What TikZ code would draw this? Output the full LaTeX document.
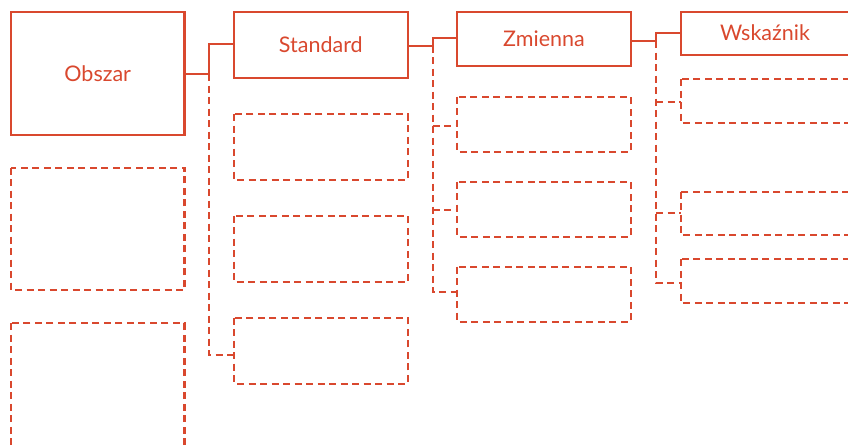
\documentclass[tikz,border=0pt]{standalone}
\usepackage{fontspec}
\setmainfont{Lato}
\definecolor{accent}{RGB}{217,72,46}
\begin{document}
\begin{tikzpicture}[x=1pt,y=-1pt,
  solidbox/.style={draw=accent,line width=2.3pt,text=accent,font=\fontsize{21.5}{26}\selectfont},
  dashbox/.style={draw=accent,line width=2.3pt,dash pattern=on 7pt off 4.5pt},
  solidline/.style={draw=accent,line width=2.3pt},
  dashline/.style={draw=accent,line width=2.3pt,dash pattern=on 7pt off 4.5pt}]
\useasboundingbox (0,0) rectangle (848,445);
\begin{scope}
\clip (0,0) rectangle (848,445);
% column 1
\draw[solidbox] (11,11.7) rectangle (184.5,135) node[midway] (obszar) {Obszar};
\coordinate (obszarR) at (184.5,74);
\draw[dashbox] (11,167.7) rectangle (184.5,290);
\draw[dashbox] (11,323.3) rectangle (184.5,470);
% column 2
\draw[solidbox] (234,12) rectangle (407.7,77.7) node[midway] (standard) {Standard};
\coordinate (standardL) at (234,44);
\coordinate (standardR) at (407.7,45.7);
\draw[dashbox] (234,114) rectangle (407.7,180);
\draw[dashbox] (234,215.7) rectangle (407.7,282);
\draw[dashbox] (234,317.7) rectangle (407.7,383.7);
\coordinate (s4L) at (234,355);
% column 3
\draw[solidbox] (457.3,11.7) rectangle (630.7,66) node[midway] (zmienna) {Zmienna};
\coordinate (zmiennaL) at (457.3,38.3);
\coordinate (zmiennaR) at (630.7,41);
\draw[dashbox] (457.3,96.7) rectangle (630.7,151.7);
\draw[dashbox] (457.3,181.7) rectangle (630.7,236.7);
\draw[dashbox] (457.3,266.7) rectangle (630.7,321.7);
\coordinate (z1L) at (457.3,126);
\coordinate (z2L) at (457.3,210);
\coordinate (z3L) at (457.3,292.3);
% column 4
\draw[solidbox] (680.7,11.7) rectangle (900,55);
\node[text=accent,font=\fontsize{21.5}{26}\selectfont] (wskaznik) at (765,33) {Wskaźnik};
\coordinate (wskaznikL) at (680.7,33.3);
\draw[dashbox] (680.7,79.3) rectangle (900,122.7);
\draw[dashbox] (680.7,191.7) rectangle (900,235);
\draw[dashbox] (680.7,259.3) rectangle (900,302.7);
\coordinate (w1L) at (680.7,102);
\coordinate (w2L) at (680.7,213.3);
\coordinate (w3L) at (680.7,282.7);
% connectors
\draw[solidline] (obszarR) -- (209,74) |- (standardL);
\draw[dashline] (209,74) |- (s4L);
\draw[solidline] (standardR) -- (432.7,45.7) |- (zmiennaL);
\draw[dashline] (432.7,45.7) |- (z3L);
\draw[dashline] (432.7,126) -- (z1L);
\draw[dashline] (432.7,210) -- (z2L);
\draw[solidline] (zmiennaR) -- (656,41) |- (wskaznikL);
\draw[dashline] (656,41) |- (w3L);
\draw[dashline] (656,102) -- (w1L);
\draw[dashline] (656,213.3) -- (w2L);
\end{scope}
\end{tikzpicture}
\end{document}
